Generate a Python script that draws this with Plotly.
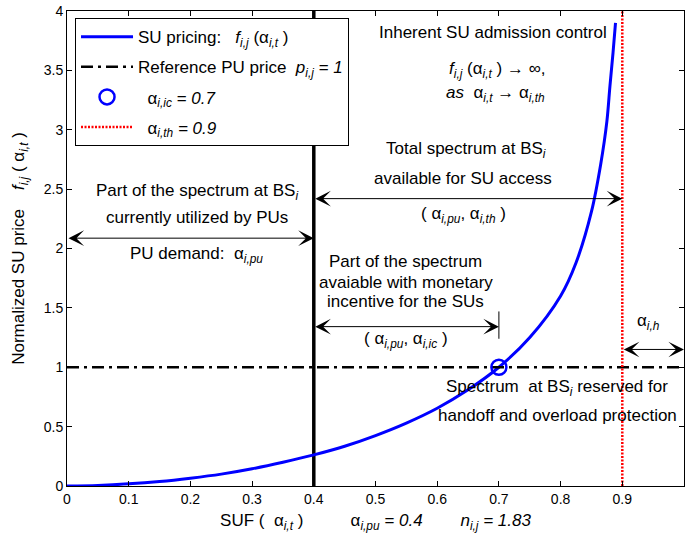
import plotly.graph_objects as go

# ---------------- data ----------------
alpha_t = [0, 0.05, 0.1, 0.15, 0.2, 0.25, 0.3, 0.35, 0.4, 0.45, 0.5, 0.55, 0.6,
           0.65, 0.7, 0.75, 0.8, 0.825, 0.85, 0.865, 0.875, 0.88, 0.885, 0.889]
su_price = [0, 0.005, 0.018, 0.038, 0.066, 0.10, 0.145, 0.20, 0.262, 0.335, 0.425,
            0.53, 0.655, 0.81, 1.0, 1.25, 1.60, 1.88, 2.31, 2.71, 3.07, 3.37, 3.65, 3.9]

alpha_pu = 0.4
alpha_ic = 0.7
alpha_th = 0.9
pu_price = 1.0

x_ticks = [0, 0.1, 0.2, 0.3, 0.4, 0.5, 0.6, 0.7, 0.8, 0.9, 1]
x_ticktext = ["0", "0.1", "0.2", "0.3", "0.4", "0.5", "0.6", "0.7", "0.8", "0.9", "1"]
y_ticks = [0, 0.5, 1, 1.5, 2, 2.5, 3, 3.5, 4]
y_ticktext = ["0", "0.5", "1", "1.5", "2", "2.5", "3", "3.5", "4"]

# arrow heights (data units)
arrow_pu_y = 2.087
arrow_total_y = 2.42
arrow_ic_y = 1.342
arrow_h_y = 1.15

FONT = "Arial, 'Liberation Sans', Helvetica, sans-serif"
TXT = 17
NB = "\u00a0"


def s(t):
    return "<sub><i>" + t + "</i></sub>"


fig = go.Figure()

# thick vertical line at alpha_pu
fig.add_trace(go.Scatter(x=[alpha_pu, alpha_pu], y=[0, 4], mode="lines",
                         line=dict(color="black", width=3.5), showlegend=False,
                         hoverinfo="skip"))

fig.add_trace(go.Scatter(
    x=alpha_t, y=su_price, mode="lines",
    line=dict(color="#0000ff", width=3, shape="spline", smoothing=0.9),
    name="SU pricing:" + NB * 3 + "<i>f</i>" + s("i,j") + " (α" + s("i,t") + " )",
    legendgroup="a"))

fig.add_trace(go.Scatter(
    x=[0, 1], y=[pu_price, pu_price], mode="lines",
    line=dict(color="black", width=2.5, dash="12px,5px,3px,5px"),
    name="Reference PU price" + NB * 2 + "<i>p</i>" + s("i,j") + "<i> = 1</i>",
    legendgroup="b"))

fig.add_trace(go.Scatter(
    x=[alpha_ic], y=[pu_price], mode="markers",
    marker=dict(symbol="circle-open", size=15, color="#0000ff",
                line=dict(width=2.5, color="#0000ff")),
    name=NB * 2 + "α" + s("i,ic") + "<i> = 0.7</i>",
    legendgroup="c"))

fig.add_trace(go.Scatter(
    x=[alpha_th, alpha_th], y=[0, 4], mode="lines",
    line=dict(color="red", width=2.5, dash="2px,1.5px"),
    name=NB * 2 + "α" + s("i,th") + "<i> = 0.9</i>",
    legendgroup="d"))

ann = []


def text(x, y, t, size=TXT):
    ann.append(dict(x=x, y=y, xref="x", yref="y", text=t, showarrow=False,
                    font=dict(family=FONT, size=size, color="black"),
                    xanchor="center", yanchor="middle"))


def arrow(x0, x1, y, both=True):
    ann.append(dict(x=x1, y=y, ax=x0, ay=y, xref="x", yref="y", axref="x", ayref="y",
                    text="", showarrow=True, arrowhead=3, startarrowhead=3,
                    arrowsize=2.6, startarrowsize=2.6, arrowwidth=1, arrowcolor="black",
                    arrowside="end+start" if both else "end", standoff=0, startstandoff=0))


text(0.691, 3.816, "Inherent SU admission control")
text(0.697, 3.50, "<i>f</i>" + s("i,j") + " (α" + s("i,t") + " ) → ∞,")
text(0.695, 3.30, "<i>as</i>" + NB * 2 + "α" + s("i,t") + " → α" + s("i,th"))

text(0.647, 2.83, "Total spectrum at BS" + s("i"))
text(0.641, 2.586, "available for SU access")
text(0.643, 2.283, "( α" + s("i,pu") + ", α" + s("i,th") + " )")
arrow(alpha_pu, alpha_th, arrow_total_y)

text(0.21, 2.48, "Part of the spectrum at BS" + s("i"))
text(0.21, 2.258, "currently utilized by PUs")
text(0.21, 1.946, "PU demand:" + NB * 2 + "α" + s("i,pu"))
arrow(0, alpha_pu, arrow_pu_y)

text(0.549, 1.89, "Part of the spectrum")
text(0.549, 1.71, "avaiable with monetary")
text(0.549, 1.553, "incentive for the SUs")
text(0.549, 1.23, "( α" + s("i,pu") + ", α" + s("i,ic") + " )")
arrow(alpha_pu, alpha_ic, arrow_ic_y)

text(0.794, 0.826, "Spectrum" + NB * 2 + "at BS" + s("i") + " reserved for")
text(0.795, 0.59, "handoff and overload protection")
text(0.942, 1.384, "α" + s("i,h"))
arrow(alpha_th, 1.0, arrow_h_y)

shapes = [dict(type="line", xref="x", yref="y", x0=alpha_ic, x1=alpha_ic,
               y0=1.24, y1=1.47, line=dict(color="black", width=1))]

xtitle = ("SUF (" + NB * 2 + "α" + s("i,t") + " )" + NB * 10 +
          "α" + s("i,pu") + "<i> = 0.4</i>" + NB * 8 +
          "<i>n</i>" + s("i,j") + "<i> = 1.83</i>")
ytitle = "Normalized SU price" + NB * 4 + "<i>f</i>" + s("i,j") + " ( α" + s("i,t") + " )"

fig.update_layout(
    width=687, height=536,
    margin=dict(l=67, r=3, t=11, b=50),
    paper_bgcolor="white", plot_bgcolor="white",
    font=dict(family=FONT, size=14, color="black"),
    annotations=ann, shapes=shapes,
    showlegend=True,
    legend=dict(x=0.013, y=0.985, xref="paper", yref="paper",
                xanchor="left", yanchor="top",
                bgcolor="white", bordercolor="black", borderwidth=1,
                font=dict(family=FONT, size=TXT, color="black"),
                itemwidth=52,
                tracegroupgap=5, traceorder="grouped"),
    xaxis=dict(range=[0, 1], tickvals=x_ticks, ticktext=x_ticktext,
               ticks="inside", ticklen=5, tickcolor="black",
               showline=True, linecolor="black", linewidth=1, mirror="ticks",
               showgrid=False, zeroline=False,
               tickfont=dict(family=FONT, size=14),
               title=dict(text=xtitle, font=dict(family=FONT, size=TXT), standoff=8)),
    yaxis=dict(range=[0, 4], tickvals=y_ticks, ticktext=y_ticktext,
               ticks="inside", ticklen=5, tickcolor="black",
               showline=True, linecolor="black", linewidth=1, mirror="ticks",
               showgrid=False, zeroline=False,
               tickfont=dict(family=FONT, size=14),
               title=dict(text=ytitle, font=dict(family=FONT, size=TXT), standoff=14)),
)

fig.write_html("out.html")
